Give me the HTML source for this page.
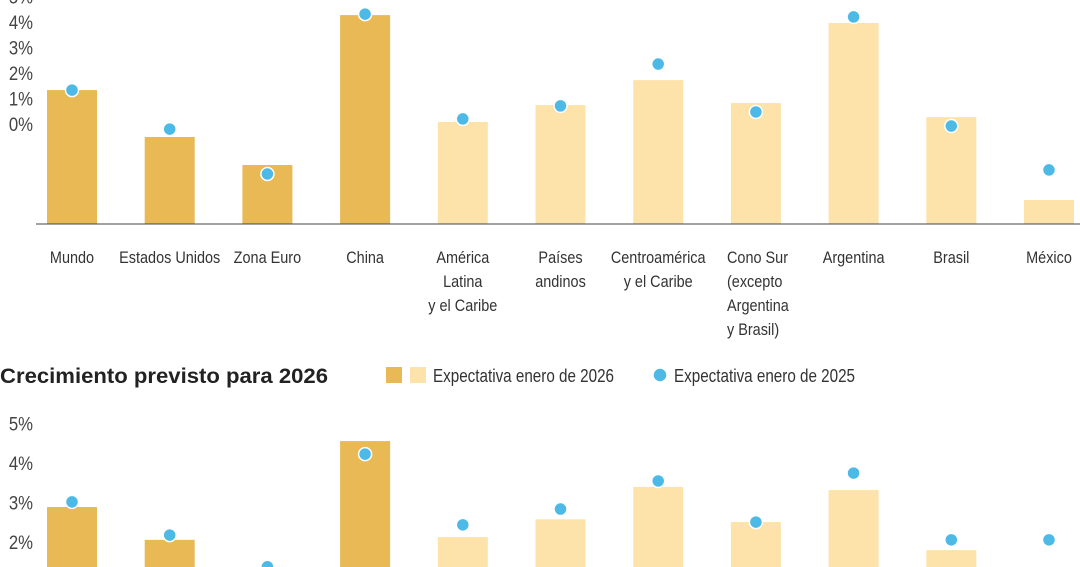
<!DOCTYPE html>
<html><head><meta charset="utf-8"><style>
html,body{margin:0;padding:0;background:#fff;width:1080px;height:567px;overflow:hidden}
svg text{font-family:"Liberation Sans",sans-serif;fill:#333}
</style></head><body>
<svg id="c" width="1080" height="567" viewBox="0 0 1080 567">
<g id="top"></g>
<g id="bot"></g>
<text x="0" y="383" style="font-weight:bold;font-size:21px;fill:#222" textLength="328" lengthAdjust="spacingAndGlyphs">Crecimiento previsto para 2026</text>
<g>
<rect x="386" y="367" width="16" height="16" fill="#e8b954"/>
<rect x="410" y="367" width="16" height="16" fill="#fde3aa"/>
<text x="433" y="382" font-size="18" textLength="181" lengthAdjust="spacingAndGlyphs">Expectativa enero de 2026</text>
<circle cx="660" cy="375" r="7" fill="#4cb9e7" stroke="#fff" stroke-width="1.5"/>
<text x="674" y="382" font-size="18" textLength="181" lengthAdjust="spacingAndGlyphs">Expectativa enero de 2025</text>
</g>
</svg>
<script>
const categories=[["Mundo"],["Estados Unidos"],["Zona Euro"],["China"],["América","Latina","y el Caribe"],["Países","andinos"],["Centroamérica","y el Caribe"],["Cono Sur","(excepto","Argentina","y Brasil)"],["Argentina"],["Brasil"],["México"]];
const darkFlags=[1,1,1,1,0,0,0,0,0,0,0];
const bars2025=[1.37,-0.47,-1.57,4.31,0.12,0.78,1.76,0.86,4.0,0.31,-2.94];
const dots2025=[1.37,-0.16,-1.92,4.35,0.24,0.75,2.39,0.51,4.24,-0.04,-1.76];
const ticksTop=["0%","1%","2%","3%","4%","5%"];
const tickValsTop=[0,1,2,3,4,5];
const bars2026=[2.91,2.08,1.2,4.58,2.15,2.6,3.42,2.53,3.34,1.82,1.2];
const dots2026=[3.04,2.2,1.4,4.25,2.46,2.86,3.57,2.53,3.77,2.08,2.08];
const ticksBot=["2%","3%","4%","5%"];
const tickValsBot=[2,3,4,5];

const NS="http://www.w3.org/2000/svg";
function mk(parent,tag,attrs){const e=document.createElementNS(NS,tag);for(const k in attrs)e.setAttribute(k,attrs[k]);parent.appendChild(e);return e;}
const xC=i=>72+i*97.7;
const yTop=v=>125-v*25.5;
const yBot=v=>543-(v-2)*39.5;
const BW=50;
const SX=0.85;

function draw(g,bars,dots,yf,base,ticks,tickVals,tag,labels){
  tickVals.forEach((v,i)=>{
    const t=mk(g,"text",{x:0,y:0,transform:`translate(33,${yf(v)+6}) scale(0.88,1)`,"text-anchor":"end","font-size":19,style:"fill:#444"});
    t.textContent=ticks[i];
    
    
  });
  bars.forEach((v,i)=>{
    const top=yf(v);
    const r=mk(g,"rect",{x:xC(i)-BW/2,y:top,width:BW,height:Math.max(0,base-top),fill:darkFlags[i]?"#e8b954":"#fde3aa"});
    
    
  });
  dots.forEach((v,i)=>{
    const c=mk(g,"circle",{cx:xC(i),cy:yf(v),r:6.5,fill:"#4cb9e7",stroke:"#fff","stroke-width":1.5});
    
    
  });
  if(labels){
    const l=mk(g,"line",{x1:36,x2:1080,y1:base,y2:base,stroke:"#444","stroke-width":1});
    
    
    categories.forEach((lines,i)=>{
      const ax=i==7?727:xC(i);
      const t=mk(g,"text",{x:0,y:0,transform:`translate(${ax},263) scale(${SX},1)`,"text-anchor":i==7?"start":"middle","font-size":17});
      
      
      lines.forEach((s,j)=>{const ts=mk(t,"tspan",{x:0,dy:j?24:0});ts.textContent=s;});
    });
  }
}
draw(document.getElementById("top"),bars2025,dots2025,yTop,224,ticksTop,tickValsTop,"2025",true);
draw(document.getElementById("bot"),bars2026,dots2026,yBot,567,ticksBot,tickValsBot,"2026",false);
</script>
</body></html>
